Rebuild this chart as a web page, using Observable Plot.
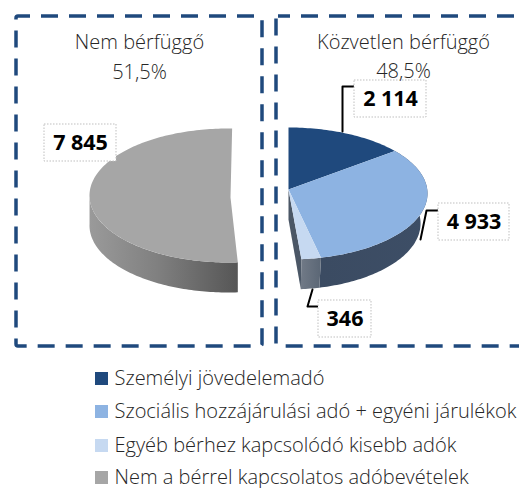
<!DOCTYPE html>
<html>
<head>
<meta charset="utf-8">
<script src="https://cdn.jsdelivr.net/npm/d3@7"></script>
<script src="https://cdn.jsdelivr.net/npm/@observablehq/plot@0.6"></script>
<style>html,body{margin:0;padding:0;background:#fff;overflow:hidden}svg{display:block}</style>
</head>
<body>
<div id="chart"></div>
<script>
// Data
const categories = ["Személyi jövedelemadó", "Szociális hozzájárulási adó + egyéni járulékok", "Egyéb bérhez kapcsolódó kisebb adók", "Nem a bérrel kapcsolatos adóbevételek"];
const values = [2114, 4933, 346, 7845];
const valueLabels = ["2 114", "4 933", "346", "7 845"];
const panelTitles = ["Nem bérfüggő", "Közvetlen bérfüggő"];
const panelShares = ["51,5%", "48,5%"];
const colors = ["#1f497d", "#8db3e2", "#c6d9f1", "#a6a6a6"];

// Layout
const W = 519, H = 488;
const rightPie = {cx: 288, cy: 193, rx: 139, ry: 66, ax: 288, ay: 189, turn: 0, bottomRx: 0.95};
const leftPie = {cx: 228, cy: 195, rx: 139, ry: 67, ax: 230, ay: 197, turn: 1.5 * Math.PI / 180, bottomRx: 1};
const depth = 30;
const font = "'Open Sans', sans-serif";

const arcs = d3.pie().sort(null)(values);

function rim(p, a0, a1, dy = 0, k = 1) {
  const n = Math.max(2, Math.ceil(Math.abs(a1 - a0) / 0.02));
  return d3.range(n + 1).map(i => {
    const t = a0 + (a1 - a0) * i / n + p.turn;
    return {x: p.cx + p.rx * k * Math.sin(t), y: p.cy - p.ry * Math.cos(t) + dy};
  });
}
const face = (p, a0, a1) => [{x: p.ax, y: p.ay}, ...rim(p, a0, a1)];
const wall = (p, a0, a1) => [...rim(p, a0, a1), ...rim(p, a1, a0, depth, p.bottomRx)];
const cut = (p, a) => {
  const r = rim(p, a, a)[0];
  const b = rim(p, a, a, depth, p.bottomRx)[0];
  return [{x: p.ax, y: p.ay}, r, b, {x: p.ax, y: p.ay + depth}];
};
const shape = (pts, fill) => Plot.line(pts, {x: "x", y: "y", fill, stroke: "none", curve: "linear"});

const [aDark, aMid, aLight, aGrey] = arcs;

// Text tables
const titles = [
  {x: 139, y: 42, t: panelTitles[0]}, {x: 139, y: 72, t: panelShares[0]},
  {x: 403, y: 42, t: panelTitles[1]}, {x: 403, y: 71, t: panelShares[1]}
];
const boxes = [
  {x1: 354, x2: 426, y1: 80, y2: 117, t: valueLabels[0]},
  {x1: 438, x2: 509, y1: 203, y2: 240, t: valueLabels[1]},
  {x1: 318, x2: 371, y1: 300, y2: 337, t: valueLabels[2]},
  {x1: 44, x2: 116, y1: 124, y2: 161, t: valueLabels[3]}
];
const leaders = [
  [{x: 342, y: 131}, {x: 342, y: 86}, {x: 354, y: 86}],
  [{x: 420, y: 239}, {x: 426, y: 210}, {x: 438, y: 210}],
  [{x: 312, y: 289}, {x: 307, y: 306}, {x: 318, y: 306}]
];
const legendY = [372, 405, 439, 471];
const legend = categories.map((name, i) => ({name, color: colors[i], y: legendY[i]}));
const frames = [{x1: 16, x2: 262, y1: 16, y2: 346}, {x1: 276, x2: 530, y1: 16, y2: 346}];

const svg = Plot.plot({
  width: W, height: H, margin: 0,
  x: {domain: [0, W], range: [0, W], axis: null},
  y: {domain: [0, H], range: [0, H], axis: null},
  marks: [
    Plot.rect(frames, {x1: "x1", x2: "x2", y1: "y1", y2: "y2", fill: "none", stroke: "#1f497d", strokeWidth: 3.5, strokeDasharray: "17 11", strokeDashoffset: 5, rx: 2}),

    // left pie
    shape(wall(leftPie, aGrey.startAngle, 1.5 * Math.PI), "url(#wallGrey)"),
    shape(face(leftPie, aGrey.startAngle, aGrey.endAngle), colors[3]),

    // right pie
    shape(cut(rightPie, aLight.endAngle), "#4b5766"),
    shape(wall(rightPie, aMid.startAngle, aMid.endAngle), "url(#wallBlue)"),
    shape(wall(rightPie, aLight.startAngle, aLight.endAngle), "url(#wallLight)"),
    shape(face(rightPie, aDark.startAngle, aDark.endAngle), colors[0]),
    shape(face(rightPie, aMid.startAngle, aMid.endAngle), colors[1]),
    shape(face(rightPie, aLight.startAngle, aLight.endAngle), colors[2]),

    // leaders
    ...leaders.map(l => Plot.line(l, {x: "x", y: "y", stroke: "#000", strokeWidth: 2, curve: "linear"})),

    // value labels
    Plot.rect(boxes, {x1: "x1", x2: "x2", y1: "y1", y2: "y2", fill: "#fff", stroke: "#bfbfbf", strokeWidth: 1, strokeDasharray: "1.5 1.5"}),
    Plot.text(boxes, {x: d => (d.x1 + d.x2) / 2, y: d => (d.y1 + d.y2) / 2, text: "t", fill: "#000", fontSize: 21.5, fontWeight: 700, fontFamily: font, textAnchor: "middle", lineAnchor: "middle"}),

    // titles
    Plot.text(titles, {x: "x", y: "y", text: "t", fill: "#262626", fontSize: 20, fontWeight: 300, fontFamily: font, textAnchor: "middle", lineAnchor: "middle"}),

    // legend
    Plot.rect(legend, {x1: 95, x2: 108, y1: "y", y2: d => d.y + 13, fill: "color"}),
    Plot.text(legend, {x: 114, y: d => d.y + 6.5, text: "name", fill: "#262626", fontSize: 20, fontWeight: 300, fontFamily: font, textAnchor: "start", lineAnchor: "middle"})
  ]
});

// Wall shading
const NS = "http://www.w3.org/2000/svg";
const defs = document.createElementNS(NS, "defs");
function grad(id, x1, x2, stops) {
  const g = document.createElementNS(NS, "linearGradient");
  g.setAttribute("id", id);
  g.setAttribute("gradientUnits", "userSpaceOnUse");
  g.setAttribute("x1", x1); g.setAttribute("x2", x2);
  g.setAttribute("y1", 0); g.setAttribute("y2", 0);
  stops.forEach(([o, c]) => {
    const s = document.createElementNS(NS, "stop");
    s.setAttribute("offset", o); s.setAttribute("stop-color", c);
    g.appendChild(s);
  });
  defs.appendChild(g);
}
grad("wallGrey", 89, 239, [[0, "#9a9a9a"], [0.45, "#808080"], [1, "#555555"]]);
grad("wallBlue", 322, 427, [[0, "#3b4b62"], [1, "#3d4e66"]]);
grad("wallLight", 301, 322, [[0, "#707986"], [1, "#596574"]]);
svg.insertBefore(defs, svg.firstChild);

document.getElementById("chart").appendChild(svg);
</script>
</body>
</html>
